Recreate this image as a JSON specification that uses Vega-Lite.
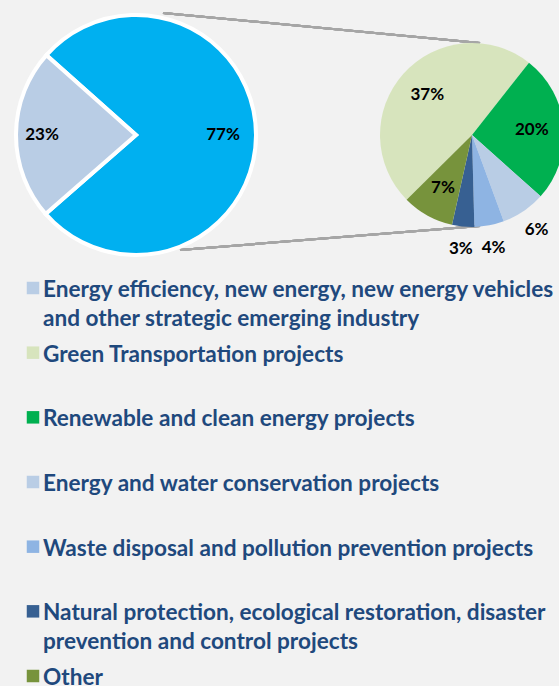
{
  "$schema": "https://vega.github.io/schema/vega-lite/v6.json",
  "width": 559,
  "height": 686,
  "autosize": {"type": "none"},
  "padding": 0,
  "background": "#F2F2F2",
  "config": {"view": {"stroke": null}},
  "data": {
    "values": [
      {"pie": "main", "cat": "Green projects total", "value": 0.77, "k": 1},
      {"pie": "main", "cat": "Energy efficiency, new energy, new energy vehicles\nand other strategic emerging industry", "value": 0.23, "k": 2, "lo": 0},
      {"pie": "sub", "cat": "Green Transportation projects", "value": 0.37, "k": 6, "lo": 1},
      {"pie": "sub", "cat": "Renewable and clean energy projects", "value": 0.20, "k": 1, "lo": 2},
      {"pie": "sub", "cat": "Energy and water conservation projects", "value": 0.06, "k": 2, "lo": 3},
      {"pie": "sub", "cat": "Waste disposal and pollution prevention projects", "value": 0.04, "k": 3, "lo": 4},
      {"pie": "sub", "cat": "Natural protection, ecological restoration, disaster\nprevention and control projects", "value": 0.03, "k": 4, "lo": 5},
      {"pie": "sub", "cat": "Other", "value": 0.07, "k": 5, "lo": 6}
    ]
  },
  "resolve": {"scale": {"theta": "independent", "y": "independent"}},
  "layer": [
    {
      "mark": {"type": "rule", "color": "#A6A6A6", "strokeWidth": 2},
      "encoding": {
        "x": {"datum": 163, "type": "quantitative", "scale": {"domain": [0, 559], "nice": false, "zero": false}, "axis": null},
        "y": {"datum": 13, "type": "quantitative", "scale": {"domain": [0, 686], "nice": false, "zero": false, "reverse": true}, "axis": null},
        "x2": {"datum": 480},
        "y2": {"datum": 43}
      }
    },
    {
      "mark": {"type": "rule", "color": "#A6A6A6", "strokeWidth": 2},
      "encoding": {
        "x": {"datum": 180, "type": "quantitative", "scale": {"domain": [0, 559], "nice": false, "zero": false}, "axis": null},
        "y": {"datum": 250, "type": "quantitative", "scale": {"domain": [0, 686], "nice": false, "zero": false, "reverse": true}, "axis": null},
        "x2": {"datum": 480},
        "y2": {"datum": 226}
      }
    },
    {
      "transform": [{"filter": "datum.pie === 'main'"}],
      "encoding": {
        "x": {"datum": 136, "type": "quantitative", "scale": {"domain": [0, 559], "nice": false, "zero": false}, "axis": null},
        "y": {"datum": 135, "type": "quantitative", "scale": {"domain": [0, 686], "nice": false, "zero": false, "reverse": true}, "axis": null},
        "theta": {"field": "value", "type": "quantitative", "stack": true, "scale": {"range": [-0.843, 5.4402]}},
        "order": {"field": "k", "type": "quantitative"}
      },
      "layer": [
        {
          "mark": {"type": "arc", "outerRadius": 120, "stroke": "white", "strokeWidth": 4},
          "encoding": {
            "color": {
              "field": "cat", "type": "nominal", "legend": null,
              "scale": {
                "domain": ["Green projects total", "Energy efficiency, new energy, new energy vehicles\nand other strategic emerging industry", "Green Transportation projects", "Renewable and clean energy projects", "Energy and water conservation projects", "Waste disposal and pollution prevention projects", "Natural protection, ecological restoration, disaster\nprevention and control projects", "Other"],
                "range": ["#00B0F0", "#B9CDE5", "#D7E4BD", "#00B050", "#B9CDE5", "#8EB4E3", "#376092", "#77933C"]
              }
            }
          }
        },
        {
          "mark": {"type": "text", "radius": {"expr": "datum.value < 0.5 ? 94 : 87"}, "font": "Lato", "fontSize": 17, "fontWeight": "bold", "color": "#000000", "align": "center", "baseline": "middle"},
          "encoding": {
            "detail": {"field": "cat", "type": "nominal"},
            "text": {"field": "value", "type": "quantitative", "format": ".0%"}
          }
        }
      ]
    },
    {
      "transform": [{"filter": "datum.pie === 'sub'"}],
      "encoding": {
        "x": {"datum": 472, "type": "quantitative", "scale": {"domain": [0, 559], "nice": false, "zero": false}, "axis": null},
        "y": {"datum": 135, "type": "quantitative", "scale": {"domain": [0, 686], "nice": false, "zero": false, "reverse": true}, "axis": null},
        "theta": {"field": "value", "type": "quantitative", "stack": true, "scale": {"range": [0.668, 6.9512]}},
        "order": {"field": "k", "type": "quantitative"}
      },
      "layer": [
        {
          "mark": {"type": "arc", "outerRadius": 92},
          "encoding": {
            "color": {"field": "cat", "type": "nominal", "legend": null}
          }
        },
        {
          "mark": {"type": "text", "radius": {"expr": "datum.value < 0.07 ? 115 : 60"}, "font": "Lato", "fontSize": 17, "fontWeight": "bold", "color": "#000000", "align": "center", "baseline": "middle"},
          "encoding": {
            "detail": {"field": "cat", "type": "nominal"},
            "text": {"field": "value", "type": "quantitative", "format": ".0%"}
          }
        }
      ]
    },
    {
      "transform": [{"filter": {"field": "lo", "valid": true}}],
      "encoding": {
        "y": {"field": "lo", "type": "ordinal", "scale": {"type": "point", "range": [288, 676], "padding": 0}, "axis": null}
      },
      "layer": [
        {
          "mark": {"type": "point", "shape": "square", "filled": true, "size": 156, "opacity": 1},
          "encoding": {
            "x": {"datum": 33, "type": "quantitative", "scale": {"domain": [0, 559], "nice": false, "zero": false}, "axis": null},
            "color": {"field": "cat", "type": "nominal", "legend": null}
          }
        },
        {
          "mark": {"type": "text", "align": "left", "baseline": "alphabetic", "dy": 9, "font": "Lato", "fontSize": 22.6, "fontWeight": "bold", "color": "#1F497D", "lineBreak": "\n", "lineHeight": 29},
          "encoding": {
            "x": {"datum": 43, "type": "quantitative", "scale": {"domain": [0, 559], "nice": false, "zero": false}, "axis": null},
            "text": {"field": "cat", "type": "nominal"}
          }
        }
      ]
    }
  ]
}
